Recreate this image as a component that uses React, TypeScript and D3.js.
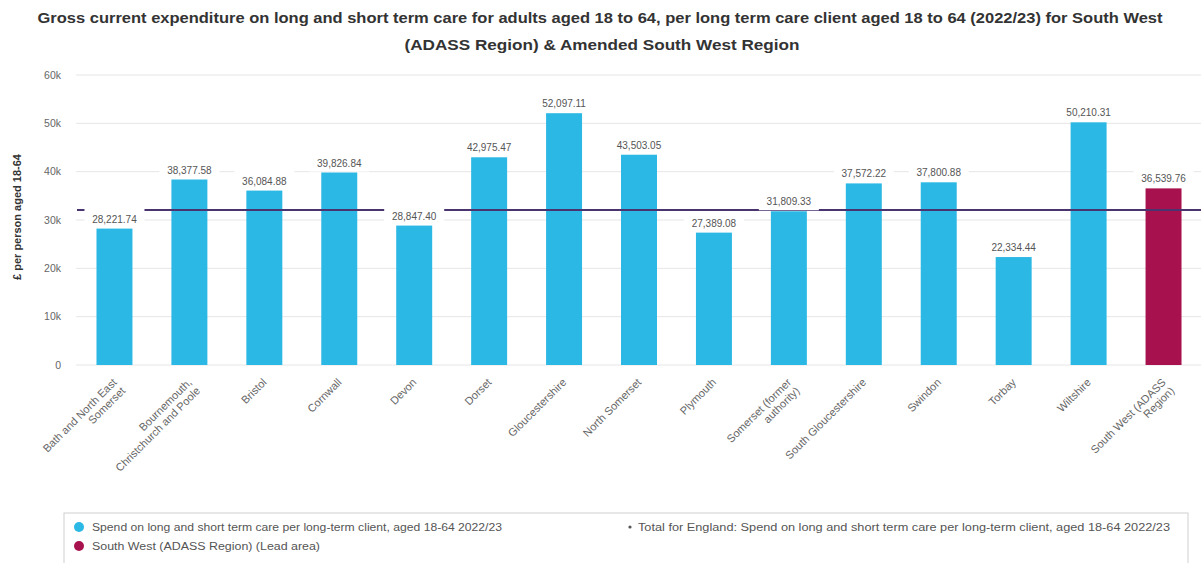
import React from "react";
import * as d3 from "d3";

const categories = [
  "Bath and North East Somerset",
  "Bournemouth, Christchurch and Poole",
  "Bristol",
  "Cornwall",
  "Devon",
  "Dorset",
  "Gloucestershire",
  "North Somerset",
  "Plymouth",
  "Somerset (former authority)",
  "South Gloucestershire",
  "Swindon",
  "Torbay",
  "Wiltshire",
  "South West (ADASS Region)",
];
const labelLines = [
  ["Bath and North East", "Somerset"],
  ["Bournemouth,", "Christchurch and Poole"],
  ["Bristol"],
  ["Cornwall"],
  ["Devon"],
  ["Dorset"],
  ["Gloucestershire"],
  ["North Somerset"],
  ["Plymouth"],
  ["Somerset (former", "authority)"],
  ["South Gloucestershire"],
  ["Swindon"],
  ["Torbay"],
  ["Wiltshire"],
  ["South West (ADASS", "Region)"],
];
const values = [
  28221.74, 38377.58, 36084.88, 39826.84, 28847.4, 42975.47, 52097.11, 43503.05,
  27389.08, 31809.33, 37572.22, 37800.88, 22334.44, 50210.31, 36539.76,
];
const leadArea = "South West (ADASS Region)";
const englandValue = 32080;
const yTicks = [0, 10000, 20000, 30000, 40000, 50000, 60000];

const W = 1201;
const H = 563;
const BLUE = "#2bb8e4";
const RED = "#a7124e";
const LINE = "#4a3470";

export default function App() {
  const x = d3.scaleBand<string>().domain(categories).range([77, 1201]).paddingInner(0.52).paddingOuter(0.26);
  const y = d3.scaleLinear().domain([0, 60000]).range([365, 75]);
  const fmt = d3.format(",.2f");
  const tickFmt = (v: number) => (v === 0 ? "0" : `${v / 1000}k`);
  const font = "'Liberation Sans', Arial, sans-serif";

  return (
    <svg width={W} height={H} style={{ position: "absolute", left: 0, top: 0, background: "#fff" }} fontFamily={font}>
      <text x={600} y={23} textAnchor="middle" fontSize={15} fontWeight="bold" fill="#333" textLength={1125} lengthAdjust="spacingAndGlyphs">
        Gross current expenditure on long and short term care for adults aged 18 to 64, per long term care client aged 18 to 64 (2022/23) for South West
      </text>
      <text x={602} y={50} textAnchor="middle" fontSize={15} fontWeight="bold" fill="#333" textLength={395} lengthAdjust="spacingAndGlyphs">
        (ADASS Region) &amp; Amended South West Region
      </text>

      {yTicks.map((t) => (
        <g key={t}>
          <line x1={76} x2={1201} y1={y(t)} y2={y(t)} stroke="#e6e6e6" strokeWidth={1} />
          <text x={61} y={y(t) + 3.5} textAnchor="end" fontSize={10.5} fill="#666">
            {tickFmt(t)}
          </text>
        </g>
      ))}

      <text transform={`translate(21,${y(30000) - 3}) rotate(-90)`} textAnchor="middle" fontSize={11} fontWeight="bold" fill="#333">
        £ per person aged 18-64
      </text>

      {categories.map((c, i) => (
        <rect
          key={c}
          x={x(c)}
          y={y(values[i])}
          width={x.bandwidth()}
          height={y(0) - y(values[i])}
          fill={c === leadArea ? RED : BLUE}
        />
      ))}

      <line x1={77} x2={1201} y1={y(englandValue)} y2={y(englandValue)} stroke={LINE} strokeWidth={2} />

      {categories.map((c, i) => {
        const cx = (x(c) as number) + x.bandwidth() / 2;
        const ty = y(values[i]) - 6;
        return (
          <g key={c}>
            <rect x={cx - 30} y={ty - 14} width={60} height={19} fill="#fff" />
            <text x={cx} y={ty} textAnchor="middle" fontSize={10} fill="#555">
              {fmt(values[i])}
            </text>
          </g>
        );
      })}

      {categories.map((c, i) => {
        const cx = (x(c) as number) + x.bandwidth() / 2;
        const lines = labelLines[i];
        return (
          <g key={c} transform={`translate(${cx + 3},${383}) rotate(-45)`}>
            {lines.map((l, j) => (
              <text key={j} x={0} y={j * 12} textAnchor="end" fontSize={11} fill="#666">
                {l}
              </text>
            ))}
          </g>
        );
      })}

      <rect x={64} y={513} width={1124} height={60} fill="#fff" stroke="#d0d0d0" strokeWidth={1} />
      <circle cx={79} cy={527} r={5} fill={BLUE} />
      <text x={92} y={530.5} fontSize={10} fill="#555" textLength={410} lengthAdjust="spacingAndGlyphs">
        Spend on long and short term care per long-term client, aged 18-64 2022/23
      </text>
      <circle cx={79} cy={546} r={5} fill={RED} />
      <text x={92} y={549.5} fontSize={10} fill="#555" textLength={228} lengthAdjust="spacingAndGlyphs">
        South West (ADASS Region) (Lead area)
      </text>
      <circle cx={630} cy={527} r={1.6} fill="#555" />
      <text x={638} y={530.5} fontSize={10} fill="#555" textLength={532} lengthAdjust="spacingAndGlyphs">
        Total for England: Spend on long and short term care per long-term client, aged 18-64 2022/23
      </text>
    </svg>
  );
}
